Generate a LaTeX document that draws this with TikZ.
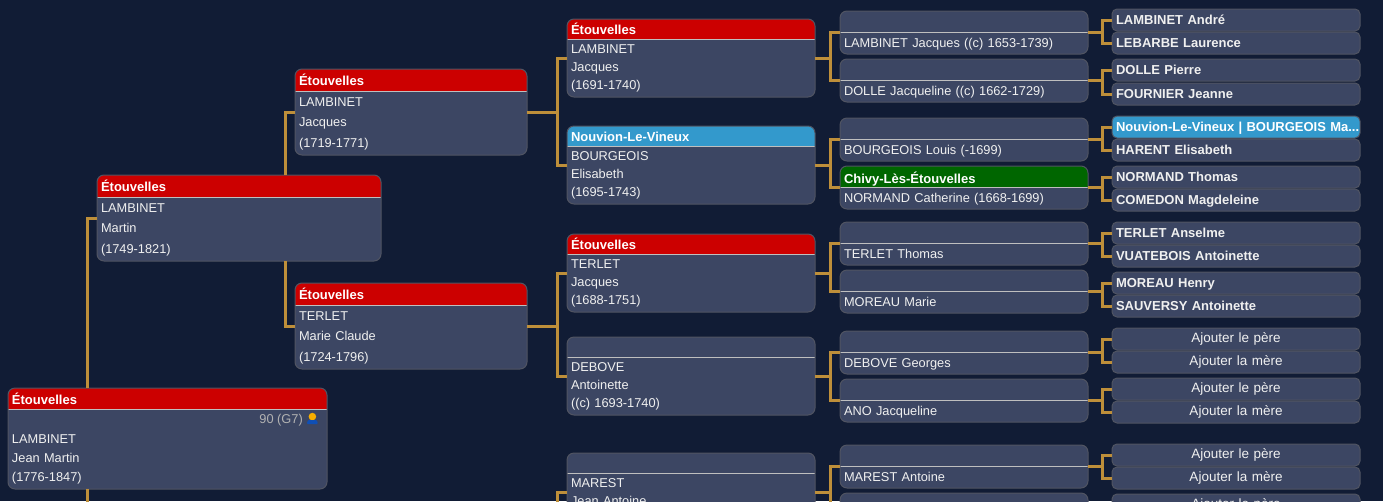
\documentclass[tikz,border=0pt]{standalone}
\usepackage{fontspec}
\setmainfont{Liberation Sans}
\usetikzlibrary{positioning}
\definecolor{fond}{HTML}{111C35}
\definecolor{corps}{HTML}{3C4663}
\definecolor{bordure}{HTML}{505462}
\definecolor{rouge}{HTML}{CC0000}
\definecolor{bleu}{HTML}{3399CC}
\definecolor{vert}{HTML}{006600}
\definecolor{cuivre}{HTML}{BE8F3A}
\definecolor{sosaor}{HTML}{F7AE00}
\definecolor{sosableu}{HTML}{0F4FB5}
\newcommand{\titre}[1]{{\fontsize{13}{\baselineskip}\selectfont\bfseries\color{white}#1}}
\newcommand{\deux}[2]{\strut #1\\\strut #2}
\newcommand{\quatre}[4]{\strut #1\\#2\\#3\\\strut #4}
\newcommand{\fourche}[3]{%
  \draw[lien] (#1.east) -- ([xshift=-10pt]#2.west |- #1.east);
  \draw[lien] (#2.west) -- ++(-10,0) |- (#3.west);}
\tikzset{
  fiche/.style={draw=bordure, fill=corps, line width=1pt, rounded corners=7pt,
    outer sep=0pt, inner xsep=4pt, inner ysep=0pt, anchor=north west, align=left, text=white!94!black},
  tete/.style 2 args={path picture={
    \fill[#1, sharp corners] (path picture bounding box.north west) rectangle ([yshift=-#2pt]path picture bounding box.north east);
    \draw[black!25!white, line width=1pt, sharp corners] ([yshift=-#2pt]path picture bounding box.north west) -- ([yshift=-#2pt]path picture bounding box.north east);
  }},
  decale/.style={execute at begin node={\rule{0pt}{#1}}},
  racine/.style={fiche, decale=15pt, text width=311pt, minimum height=101pt, font=\fontsize{12.8}{19.4}\selectfont},
  gena/.style={fiche, decale=15pt, text width=276pt, minimum height=86pt, font=\fontsize{12.8}{20.5}\selectfont},
  genb/.style={fiche, decale=15pt, text width=224pt, minimum height=86pt, font=\fontsize{12.8}{20.5}\selectfont},
  genc/.style={fiche, decale=13.8pt, text width=240pt, minimum height=78pt, font=\fontsize{12.8}{18.3}\selectfont},
  gend/.style={fiche, decale=17.3pt, text width=240pt, minimum height=43pt, font=\fontsize{12.8}{19}\selectfont},
  genbase/.style={fiche, rounded corners=5pt, text width=240pt, minimum height=22pt},
  gene/.style={genbase, decale=13.5pt, font=\fontsize{13}{15}\selectfont\bfseries},
  ajout/.style={genbase, align=center, font=\fontsize{13.5}{15}\selectfont},
  rang/.style={anchor=east, inner sep=0pt, text=black!30!white, font=\fontsize{12.8}{15}\selectfont},
  lien/.style={draw=cuivre, line width=3pt},
}
\begin{document}
\begin{tikzpicture}[x=1pt,y=-1pt]

  \useasboundingbox (0,0) rectangle (1383,501);
  \clip (0,0) rectangle (1383,501);
  \fill[fond] (0,0) rectangle (1383,501);

  % Junctions
  \coordinate (jr) at (87,0);
  \coordinate (ja) at (285,0);
  \coordinate (basr) at (87,510);
  \coordinate (basm) at (557,510);

  % Person and parents
  \node[racine, tete={rouge}{21}] (jean) at (8,388)
    {\strut\titre{Étouvelles}\\\strut\\LAMBINET\\Jean Martin\\\strut (1776-1847)};
  \node[rang] (jeanrang) at (303,420) {90 (G7)};
  \node[gena, tete={rouge}{22}] (martin) at (97,175)
    {\quatre{\titre{Étouvelles}}{LAMBINET}{Martin}{(1749-1821)}};

  % Grandparents
  \node[genb, tete={rouge}{22}] (jacquesb) at (295,69)
    {\quatre{\titre{Étouvelles}}{LAMBINET}{Jacques}{(1719-1771)}};
  \node[genb, tete={rouge}{22}] (mclaude) at (295,283)
    {\quatre{\titre{Étouvelles}}{TERLET}{Marie Claude}{(1724-1796)}};

  % Third generation
  \node[genc, tete={rouge}{20.5}] (jacquesc) at (567,19)
    {\quatre{\titre{Étouvelles}}{LAMBINET}{Jacques}{(1691-1740)}};
  \node[genc, tete={bleu}{20.5}] (elisabeth) at (567,126)
    {\quatre{\titre{Nouvion-Le-Vineux}}{BOURGEOIS}{Elisabeth}{(1695-1743)}};
  \node[genc, tete={rouge}{20.5}] (jacquest) at (567,234)
    {\quatre{\titre{Étouvelles}}{TERLET}{Jacques}{(1688-1751)}};
  \node[genc, tete={corps}{20.5}] (antoinette) at (567,337)
    {\quatre{}{DEBOVE}{Antoinette}{((c) 1693-1740)}};
  \node[genc, tete={corps}{20.5}] (jantoine) at (567,453)
    {\quatre{}{MAREST}{Jean Antoine}{}};

  % Fourth generation
  \node[gend, tete={corps}{21}] (jacquesd) at (840,11)
    {\deux{}{LAMBINET Jacques ((c) 1653-1739)}};
  \node[gend, tete={corps}{21}, below=5pt of jacquesd] (jacqueline)
    {\deux{}{DOLLE Jacqueline ((c) 1662-1729)}};
  \node[gend, tete={corps}{21}] (louis) at (840,118)
    {\deux{}{BOURGEOIS Louis (-1699)}};
  \node[gend, tete={vert}{21}, below=5pt of louis] (catherine)
    {\deux{\titre{Chivy-Lès-Étouvelles}}{NORMAND Catherine (1668-1699)}};
  \node[gend, tete={corps}{21}] (thomas) at (840,222)
    {\deux{}{TERLET Thomas}};
  \node[gend, tete={corps}{21}, below=5pt of thomas] (marie)
    {\deux{}{MOREAU Marie}};
  \node[gend, tete={corps}{21}] (georges) at (840,331)
    {\deux{}{DEBOVE Georges}};
  \node[gend, tete={corps}{21}, below=5pt of georges] (jacquelinea)
    {\deux{}{ANO Jacqueline}};
  \node[gend, tete={corps}{21}] (antoine) at (840,445)
    {\deux{}{MAREST Antoine}};
  \node[gend, tete={corps}{21}, below=5pt of antoine] (mereant) {};

  % Fifth generation
  \node[gene] (andre) at (1112,9) {\strut LAMBINET André};
  \node[gene, below=1pt of andre] (laurence) {\strut LEBARBE Laurence};
  \node[gene] (pierre) at (1112,59) {\strut DOLLE Pierre};
  \node[gene, below=2pt of pierre] (jeanne) {\strut FOURNIER Jeanne};
  \node[gene, tete={bleu}{22}] (bma) at (1112,116) {\strut\makebox[240pt][l]{\titre{Nouvion-Le-Vineux | BOURGEOIS Ma...}}};
  \node[gene, below=1pt of bma] (harent) {\strut HARENT Elisabeth};
  \node[gene] (normand) at (1112,166) {\strut NORMAND Thomas};
  \node[gene, below=1pt of normand] (comedon) {\strut COMEDON Magdeleine};
  \node[gene] (anselme) at (1112,222) {\strut TERLET Anselme};
  \node[gene, below=1pt of anselme] (vuatebois) {\strut VUATEBOIS Antoinette};
  \node[gene] (henry) at (1112,272) {\strut MOREAU Henry};
  \node[gene, below=1pt of henry] (sauversy) {\strut SAUVERSY Antoinette};
  \node[ajout] (perea) at (1112,328) {Ajouter le père};
  \node[ajout, below=1pt of perea] (merea) {Ajouter la mère};
  \node[ajout] (pereb) at (1112,378) {Ajouter le père};
  \node[ajout, below=1pt of pereb] (mereb) {Ajouter la mère};
  \node[ajout] (perec) at (1112,444) {Ajouter le père};
  \node[ajout, below=1pt of perec] (merec) {Ajouter la mère};
  \node[ajout] (pered) at (1112,494) {Ajouter le père};

  % Edges
  \draw[lien] (martin.west) -| (jr |- jean.north);
  \draw[lien] (jr |- jean.south) -- (basr);
  \draw[lien] (jacquesb.west) -| (ja |- martin.north);
  \draw[lien] (mclaude.west) -| (ja |- martin.south);
  \fourche{jacquesb}{jacquesc}{elisabeth}
  \fourche{mclaude}{jacquest}{antoinette}
  \draw[lien] (jantoine.west) -- ++(-10,0) -- (basm);
  \fourche{jacquesc}{jacquesd}{jacqueline}
  \fourche{elisabeth}{louis}{catherine}
  \fourche{jacquest}{thomas}{marie}
  \fourche{antoinette}{georges}{jacquelinea}
  \fourche{jantoine}{antoine}{mereant}
  \fourche{jacquesd}{andre}{laurence}
  \fourche{jacqueline}{pierre}{jeanne}
  \fourche{louis}{bma}{harent}
  \fourche{catherine}{normand}{comedon}
  \fourche{thomas}{anselme}{vuatebois}
  \fourche{marie}{henry}{sauversy}
  \fourche{georges}{perea}{merea}
  \fourche{jacquelinea}{pereb}{mereb}
  \fourche{antoine}{perec}{merec}

  % Sosa icon
  \fill[sosaor] (312.4,416.6) circle (3.8);
  \fill[sosableu, rounded corners=1pt] (306.7,424) -- (308,420) -- (316.8,420) -- (318,424) -- cycle;

\end{tikzpicture}
\end{document}
